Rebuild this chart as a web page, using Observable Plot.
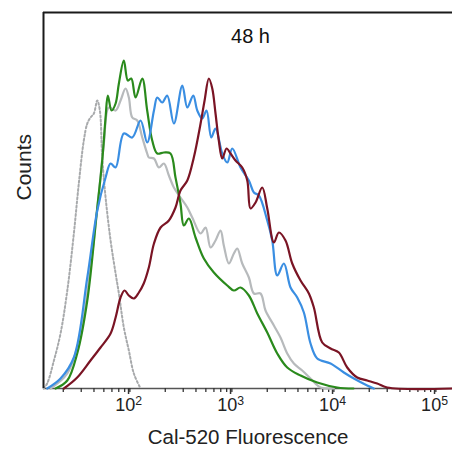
<!DOCTYPE html>
<html><head><meta charset="utf-8">
<script src="https://cdn.jsdelivr.net/npm/d3@7"></script>
<script src="https://cdn.jsdelivr.net/npm/@observablehq/plot@0.6"></script>
<style>body{margin:0;background:#fff}</style>
</head><body><div id="chart"></div>
<script>
const title = "48 h";
const xLabel = "Cal-520 Fluorescence";
const yLabel = "Counts";
const xDomain = [12.8, 131000];
const yDomain = [0, 376];
const majorTicks = [100, 1000, 10000, 100000];
const minorTicks = [20,30,40,50,60,70,80,90,200,300,400,500,600,700,800,900,2000,3000,4000,5000,6000,7000,8000,9000,20000,30000,40000,50000,60000,70000,80000,90000];

// isotype (dotted grey)
const isoX = [12.8,13.9,16.2,18.8,21.9,25.4,28.4,31.8,34.4,37.0,39.9,43.1,45.7,48.2,52.0,58.2,65.2,70.2,78.5,87.9,98.4,114.5];
const isoY = [0,5,28,55,98,155,205,248,265,271,275,288,278,231,191,148,115,95,61,38,15,0];
// grey solid
const greyX = [15.0,21.9,29.6,37.0,44.7,50.0,56.0,65.2,72.9,81.6,87.9,94.9,106.2,119,133,138,155,173,194,217,243,282,329,368,444,497,556,622,697,750,841,941,1016,1137,1321,1479,1718,1923,2323,2698,3140,3648,4406,5312,6668,9000];
const greyY = [0,15,55,121,195,245,281,278,288,300,291,271,268,251,235,231,230,221,225,213,201,191,181,171,155,161,141,148,158,143,125,135,140,125,111,95,95,78,63,51,35,25,18,10,1,0];
// green
const greenX = [16.8,21.9,27.4,34.4,43.1,48.2,52.0,54.7,59.5,65.2,70.2,78.5,86.0,92.9,102.3,119,133,149,167,194,225,252,282,304,341,396,478,599,811,941,1094,1321,1596,2000,2506,3140,4240,6180,9708,14000];
const greenY = [0,8,35,88,181,228,271,293,278,285,305,328,308,310,291,310,278,248,235,236,235,211,185,163,170,151,130,116,103,98,101,93,75,56,35,21,13,6,1,0];
// blue
const blueX = [13.9,18.8,25.4,34.4,43.1,52.0,58.2,65.2,78.5,94.9,114.5,133,155,167,187,209,243,294,329,376,412,461,508,565,622,724,811,908,1094,1321,1479,1656,2000,2239,2506,2911,3381,3936,4571,5312,6180,8351,11270,14130,19100,22180];
const blueY = [0,10,31,111,178,211,225,221,255,251,268,246,278,291,286,293,265,303,281,293,278,270,278,251,260,235,226,240,221,208,196,193,168,148,113,125,101,91,76,45,30,25,16,10,3,0];
// dark red
const redX = [20.3,27.4,37.0,46.4,58.2,65.2,72.9,79.8,87.9,98.4,110.2,123,138,155,180,217,252,282,329,381,444,486,535,578,622,670,724,798,873,977,1137,1274,1371,1535,1786,2000,2323,2600,3020,3516,4240,5117,5728,6918,8351,10070,12160,15240,19100,23950,30000,131000];
const redY = [0,11,28,41,55,71,91,98,93,90,96,105,121,145,161,168,181,198,208,231,265,288,310,300,275,248,230,240,235,228,221,208,180,186,201,180,146,156,148,125,108,95,81,46,40,36,21,11,8,5,1,0];

const rows = (xs, ys) => xs.map((x, i) => ({x, y: ys[i]}));
const font = "'Liberation Sans', Arial, Helvetica, sans-serif";
const lineOpts = {x: "x", y: "y", curve: "catmull-rom", strokeWidth: 2.2, strokeLinejoin: "round"};

const plot = Plot.plot({
  width: 452,
  height: 449,
  marginTop: 12,
  marginBottom: 61,
  marginLeft: 43,
  marginRight: 0,
  style: {fontFamily: font, background: "#fff", color: "#222"},
  x: {type: "log", domain: xDomain, axis: null},
  y: {domain: yDomain, axis: null},
  marks: [
    Plot.ruleY([yDomain[0]], {stroke: "#555", strokeWidth: 1.5}),
    Plot.axisX(minorTicks, {tickSize: 4, fill: "none", label: null, stroke: "#333", strokeWidth: 1.3}),
    Plot.axisX(majorTicks, {tickSize: 6, tickPadding: 4, label: null, tickFormat: d => "10" + Math.round(Math.log10(d)), fontSize: 18, fill: "#222", stroke: "#333", strokeWidth: 1.5, dx: -6}),
    Plot.line(rows(isoX, isoY), {...lineOpts, stroke: "#a8aaac", strokeDasharray: "2,2.2", strokeWidth: 2}),
    Plot.line(rows(greyX, greyY), {...lineOpts, stroke: "#b7babc"}),
    Plot.line(rows(greenX, greenY), {...lineOpts, stroke: "#2a8a1c"}),
    Plot.line(rows(blueX, blueY), {...lineOpts, stroke: "#3a8ee2"}),
    Plot.line(rows(redX, redY), {...lineOpts, stroke: "#7a1424"}),
    Plot.ruleY([yDomain[1]], {stroke: "#1a1a1a", strokeWidth: 2}),
    Plot.ruleX([xDomain[0]], {stroke: "#1a1a1a", strokeWidth: 2}),
    Plot.text([title], {frameAnchor: "top", dy: 24, dx: 2.5, fontSize: 20, fill: "#111", lineAnchor: "middle"}),
    Plot.text([xLabel], {frameAnchor: "bottom", dy: 49, fontSize: 20.5, fill: "#222", lineAnchor: "middle"}),
    Plot.text([yLabel], {frameAnchor: "left", dx: -19, rotate: -90, fontSize: 21, fill: "#222", lineAnchor: "middle"})
  ]
});
document.getElementById("chart").appendChild(plot);
d3.select(plot).selectAll('g[aria-label="x-axis tick label"] text').each(function() {
  const t = this.textContent;
  if (!t.startsWith("10")) return;
  const sel = d3.select(this);
  sel.text("10");
  sel.append("tspan").attr("dy", "-0.5em").attr("font-size", "0.68em").text(t.slice(2));
});
</script>
</body></html>
